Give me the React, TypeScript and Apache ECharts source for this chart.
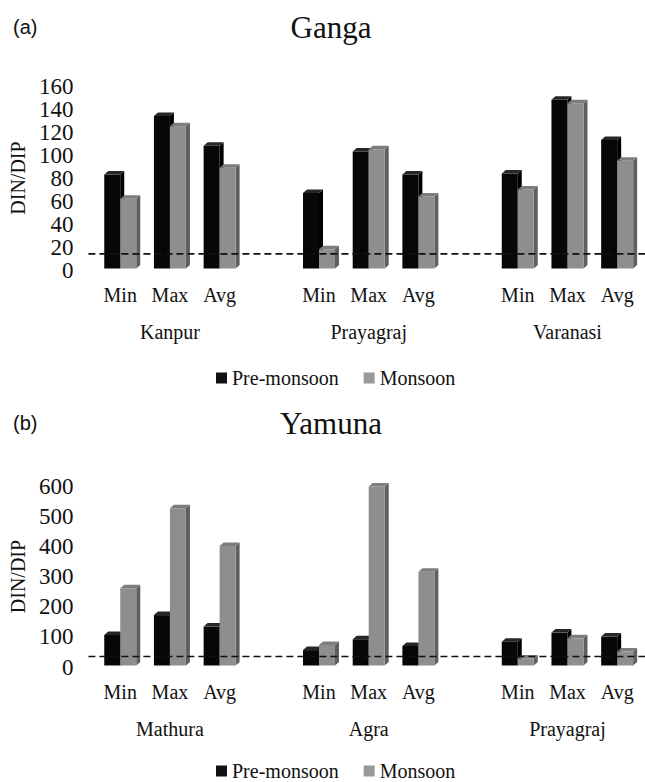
import React, { useEffect, useRef } from "react";
import * as echarts from "echarts";

// ---------- data ----------
const statCategories = ["Min", "Max", "Avg", "", "Min", "Max", "Avg", "", "Min", "Max", "Avg"];
const gangaSites = ["Kanpur", "Prayagraj", "Varanasi"];
const yamunaSites = ["Mathura", "Agra", "Prayagraj"];
const seriesNames = ["Pre-monsoon", "Monsoon"];

// order: site1 Min, Max, Avg, site2 Min, Max, Avg, site3 Min, Max, Avg
const gangaPre = [83, 134, 108, 67, 103, 83, 84, 148, 113];
const gangaMon = [62, 125, 89, 18, 105, 64, 70, 145, 95];
const yamunaPre = [106, 172, 134, 56, 92, 70, 84, 114, 101];
const yamunaMon = [261, 526, 401, 73, 598, 316, 28, 95, 51];

const gangaThreshold = 14;
const yamunaThreshold = 35;

const gangaTicks = { min: 0, max: 160, interval: 20 };
const yamunaTicks = { min: 0, max: 600, interval: 100 };

// ---------- helpers ----------
const SERIF = "Liberation Serif";
const TXT = "#111111";

function siteAxis(sites: string[]) {
  return statCategories.map((_, i) => (i % 4 === 1 ? sites[Math.floor(i / 4)] : ""));
}

function toPoints(values: number[]) {
  return values.map((v, k) => [k + Math.floor(k / 3), v]);
}

const PALETTE = {
  pre: { front: "#070707", side: "#000000", top: "#262626" },
  mon: { front: "#8e8e8e", side: "#5f5f5f", top: "#7d7d7d" },
};

function barRenderer(leftSide: boolean, c: { front: string; side: string; top: string }) {
  return (params: any, api: any) => {
    const ci = api.value(0);
    const v = api.value(1);
    const top = api.coord([ci, v]);
    const base = api.coord([ci, 0]);
    const w = 16;
    const d = 4;
    const dy = 3.5;
    const x0 = leftSide ? top[0] - w : top[0];
    const x1 = x0 + w;
    const yT = top[1];
    const yB = base[1] - 1.5;
    return {
      type: "group",
      children: [
        {
          type: "polygon",
          shape: { points: [[x1, yB], [x1 + d, yB - dy], [x1 + d, yT - dy], [x1, yT]] },
          style: { fill: c.side },
        },
        {
          type: "rect",
          shape: { x: x0, y: yT, width: w, height: yB - yT },
          style: { fill: c.front },
        },
        {
          type: "polygon",
          shape: { points: [[x0, yT], [x0 + d, yT - dy], [x1 + d, yT - dy], [x1, yT]] },
          style: { fill: c.top },
        },
      ],
    };
  };
}

function thresholdRenderer(params: any, api: any) {
  const y = api.coord([0, api.value(1)])[1];
  const cs = params.coordSys;
  return {
    type: "line",
    shape: { x1: cs.x - 7, y1: y, x2: cs.x + cs.width + 3, y2: y },
    style: { stroke: "#111", lineWidth: 1.6, lineDash: [7, 4] },
    z2: 10,
  };
}

function xAxes(gridIndex: number, sites: string[]) {
  const common = {
    gridIndex,
    type: "category",
    position: "bottom",
    axisLine: { show: false },
    axisTick: { show: false },
    splitLine: { show: false },
  };
  return [
    {
      ...common,
      data: statCategories,
      axisLabel: { interval: 0, margin: 15, color: TXT, fontFamily: SERIF, fontSize: 20 },
    },
    {
      ...common,
      offset: 37,
      data: siteAxis(sites),
      axisLabel: { interval: 0, margin: 15, color: TXT, fontFamily: SERIF, fontSize: 20 },
    },
  ];
}

function yAxis(gridIndex: number, t: { min: number; max: number; interval: number }) {
  return {
    gridIndex,
    type: "value",
    min: t.min,
    max: t.max,
    interval: t.interval,
    name: "DIN/DIP",
    nameLocation: "middle",
    nameGap: 62,
    nameTextStyle: { color: TXT, fontFamily: SERIF, fontSize: 20 },
    axisLine: { show: false },
    axisTick: { show: false },
    splitLine: { show: false },
    axisLabel: { margin: 22, color: TXT, fontFamily: SERIF, fontSize: 23 },
  };
}

function panelSeries(xi: number, yi: number, pre: number[], mon: number[], th: number) {
  return [
    {
      name: seriesNames[0],
      type: "custom",
      xAxisIndex: xi,
      yAxisIndex: yi,
      itemStyle: { color: "#111" },
      renderItem: barRenderer(true, PALETTE.pre),
      data: toPoints(pre),
      z: 2,
    },
    {
      name: seriesNames[1],
      type: "custom",
      xAxisIndex: xi,
      yAxisIndex: yi,
      itemStyle: { color: "#999" },
      renderItem: barRenderer(false, PALETTE.mon),
      data: toPoints(mon),
      z: 3,
    },
    {
      name: "threshold",
      type: "custom",
      xAxisIndex: xi,
      yAxisIndex: yi,
      renderItem: thresholdRenderer,
      data: [[0, th]],
      silent: true,
      z: 5,
    },
  ];
}

function legend(top: number) {
  return {
    top,
    left: 216,
    padding: 0,
    itemWidth: 11,
    itemHeight: 11,
    itemGap: 25,
    selectedMode: false,
    textStyle: { color: TXT, fontFamily: SERIF, fontSize: 20 },
    data: [
      { name: seriesNames[0], icon: "rect", itemStyle: { color: "#111" } },
      { name: seriesNames[1], icon: "rect", itemStyle: { color: "#999" } },
    ],
  };
}

function titleTexts(dy: number, tag: string, river: string) {
  return [
    {
      type: "text",
      x: 13,
      y: 17 + dy,
      style: { text: tag, font: "20px Liberation Sans", fill: TXT },
    },
    {
      type: "text",
      x: 331,
      y: 12 + dy,
      style: { text: river, font: "31px Liberation Serif", fill: TXT, textAlign: "center" },
    },
  ];
}

export default function App() {
  const ref = useRef<HTMLDivElement>(null);

  useEffect(() => {
    if (!ref.current) return;
    const chart = echarts.init(ref.current, null, { renderer: "svg" });
    const option: any = {
      animation: false,
      textStyle: { fontFamily: SERIF },
      grid: [
        { left: 92, width: 550, top: 86, height: 184 },
        { left: 92, width: 550, top: 486, height: 181 },
      ],
      xAxis: [...xAxes(0, gangaSites), ...xAxes(1, yamunaSites)],
      yAxis: [yAxis(0, gangaTicks), yAxis(1, yamunaTicks)],
      legend: [legend(368), legend(761)],
      graphic: [...titleTexts(0, "(a)", "Ganga"), ...titleTexts(396, "(b)", "Yamuna")],
      series: [
        ...panelSeries(0, 0, gangaPre, gangaMon, gangaThreshold),
        ...panelSeries(2, 1, yamunaPre, yamunaMon, yamunaThreshold),
      ],
    };
    chart.setOption(option);
    return () => chart.dispose();
  }, []);

  return (
    <div
      ref={ref}
      style={{ position: "absolute", left: 0, top: 0, width: 645, height: 782 }}
    />
  );
}
